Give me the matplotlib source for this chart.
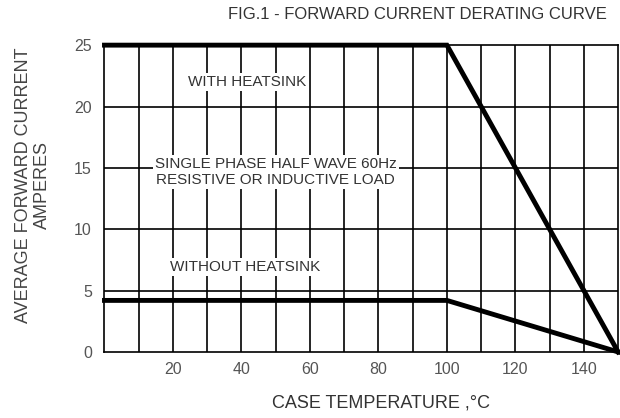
import matplotlib
matplotlib.use("Agg")
import matplotlib.pyplot as plt

# derating curves
temp_with = [0, 100, 150]
amps_with = [25, 25, 0]
temp_without = [0, 100, 150]
amps_without = [4.2, 4.2, 0]

xticks = [20, 40, 60, 80, 100, 120, 140]
yticks = [0, 5, 10, 15, 20, 25]

plt.rcParams['font.family'] = ['Liberation Sans', 'DejaVu Sans']

fig = plt.figure(figsize=(6.2, 4.18), dpi=100)
ax = fig.add_axes([0.1685, 0.158, 0.8285, 0.734])

ax.set_xlim(0, 150)
ax.set_ylim(0, 25)

for x in range(10, 150, 10):
    ax.axvline(x, color="black", lw=1.2, zorder=1)
for y in [5, 10, 15, 20]:
    ax.axhline(y, color="black", lw=1.2, zorder=1)

ax.plot(temp_with, amps_with, color="black", lw=3.5, zorder=4, clip_on=False,
        solid_joinstyle="miter")
ax.plot(temp_without, amps_without, color="black", lw=3.5, zorder=4, clip_on=False,
        solid_joinstyle="miter")

box = dict(facecolor="white", edgecolor="none", pad=1.5)
txt = "#333333"
ax.text(41.8, 22.0, "WITH HEATSINK", ha="center", va="center", fontsize=11,
        color=txt, bbox=box, zorder=3)
ax.text(50, 14.65, "SINGLE PHASE HALF WAVE 60Hz\nRESISTIVE OR INDUCTIVE LOAD",
        ha="center", va="center", fontsize=11, color=txt, bbox=box, zorder=3,
        linespacing=1.2)
ax.text(41, 6.9, "WITHOUT HEATSINK", ha="center", va="center", fontsize=11,
        color=txt, bbox=box, zorder=3)

ax.set_xticks(xticks)
ax.set_yticks(yticks)
ax.tick_params(length=0, labelsize=11.5, labelcolor="#555555")
ax.tick_params(axis="x", pad=7)
ax.tick_params(axis="y", pad=9)

for s in ax.spines.values():
    s.set_color("black")
    s.set_linewidth(1.2)

fig.text(0.615, 0.036, "CASE TEMPERATURE ,\u00b0C", ha="center", va="center",
         fontsize=13, color="#333333")
fig.text(0.053, 0.557, "AVERAGE FORWARD CURRENT\nAMPERES", ha="center", va="center",
         rotation=90, fontsize=13, color="#444444", linespacing=1.15,
         multialignment="center")
fig.text(0.674, 0.965, "FIG.1 - FORWARD CURRENT DERATING CURVE", ha="center",
         va="center", fontsize=12, color="#333333")

fig.savefig("out.png", dpi=100)
